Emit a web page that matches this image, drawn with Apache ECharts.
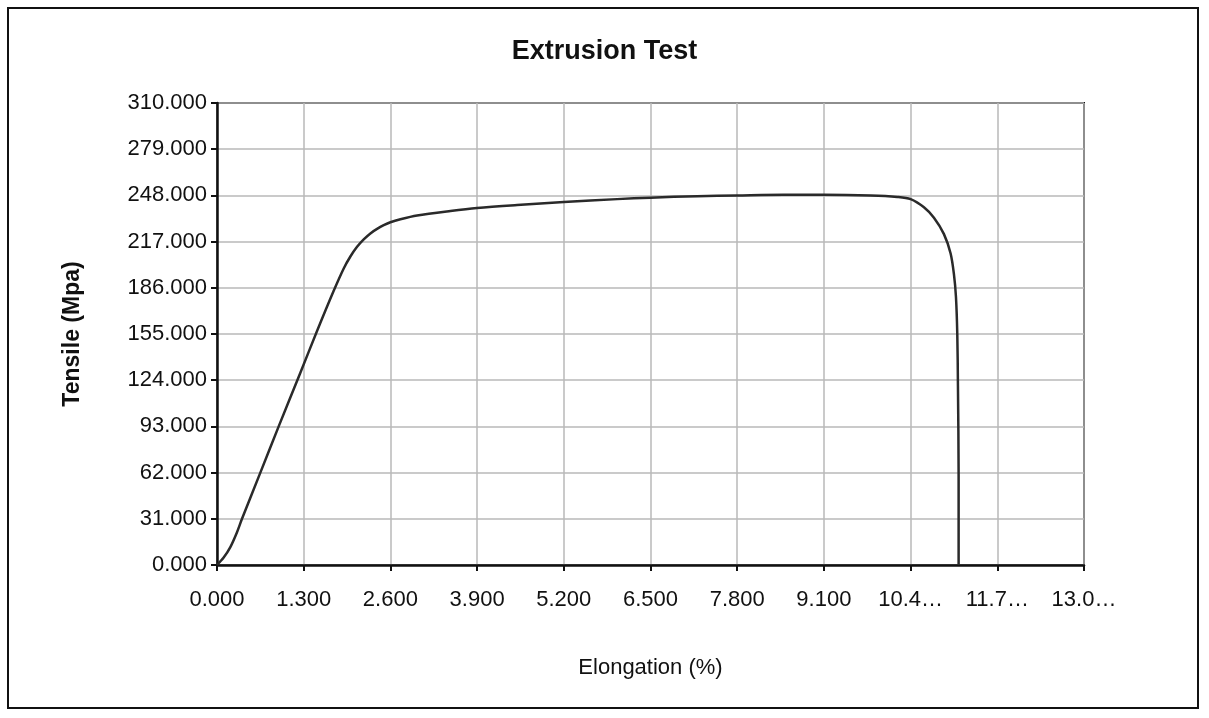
<!DOCTYPE html>
<html>
<head>
<meta charset="utf-8">
<script src="https://cdn.jsdelivr.net/npm/echarts@6/dist/echarts.min.js"></script>
<style>
  html, body { margin: 0; padding: 0; background: #fff; }
  #chart { width: 1209px; height: 718px; }
</style>
</head>
<body>
<div id="chart"></div>
<script>
// elongation (%) and tensile (Mpa)
const elongation = [0, 0.1, 0.2, 0.3, 0.375, 0.65, 0.925, 1.25, 1.5, 1.75, 1.9, 2.0, 2.1, 2.2, 2.3, 2.4, 2.5, 2.6, 2.75, 3.0, 3.5, 3.9, 4.5, 5.2, 6.0, 6.5, 7.2, 7.8, 8.5, 9.1, 9.8, 10.2, 10.4, 10.6, 10.75, 10.9, 11.0, 11.05, 11.08, 11.1, 11.11, 11.12, 11.12];
const tensile = [0, 5, 12, 22, 31, 62, 93, 129, 157, 184, 199, 207, 213.5, 218.5, 222.5, 225.5, 228, 230, 232, 234.5, 237.5, 239.5, 241.5, 243.5, 245.5, 246.5, 247.5, 248, 248.5, 248.5, 248, 247, 245.5, 240, 233, 222, 209, 195, 180, 155, 120, 60, 0];

const chart = echarts.init(document.getElementById("chart"));

/* ---------- label formatters ---------- */
const fmtY = (v) => v.toFixed(3);
const fmtX = (v) => {
  const s = v.toFixed(3);
  return s.length > 5 ? s.slice(0, 4) + "\u2026" : s;
};

const font = "Liberation Sans, Arial, sans-serif";

chart.setOption({
  backgroundColor: "#fff",
  animation: false,
  textStyle: { fontFamily: font },
  title: {
    text: "Extrusion Test",
    left: "center",
    top: 33,
    textStyle: { fontSize: 27, fontWeight: "bold", color: "#111", fontFamily: font },
  },
  graphic: [
    {
      type: "rect",
      shape: { x: 8, y: 8, width: 1190, height: 700 },
      style: { fill: "none", stroke: "#111", lineWidth: 2 },
      silent: true,
    },
  ],
  grid: {
    left: 217,
    right: 125,
    top: 103,
    bottom: 153,
    show: true,
    borderColor: "#111",
    borderWidth: 2,
  },
  xAxis: {
    type: "value",
    min: 0,
    max: 13,
    interval: 1.3,
    name: "Elongation (%)",
    nameLocation: "middle",
    nameGap: 92,
    nameTextStyle: { fontSize: 22, color: "#111", fontFamily: font },
    axisLine: { show: true, lineStyle: { color: "#111", width: 2.5 } },
    axisTick: { show: true, length: 6, lineStyle: { color: "#111", width: 2 } },
    axisLabel: { formatter: fmtX, fontSize: 22, color: "#111", margin: 24, showMaxLabel: true },
    splitLine: { show: true, lineStyle: { color: "#b8b8b8", width: 1.5 } },
  },
  yAxis: {
    type: "value",
    min: 0,
    max: 310,
    interval: 31,
    name: "Tensile (Mpa)",
    nameLocation: "middle",
    nameGap: 133,
    nameTextStyle: { fontSize: 23, fontWeight: "bold", color: "#111", fontFamily: font },
    axisLine: { show: true, lineStyle: { color: "#111", width: 2.5 } },
    axisTick: { show: true, length: 6, lineStyle: { color: "#111", width: 2 } },
    axisLabel: { formatter: fmtY, fontSize: 22, color: "#111", margin: 10 },
    splitLine: { show: true, lineStyle: { color: "#b8b8b8", width: 1.5 } },
  },
  series: [
    {
      type: "line",
      data: elongation.map((x, i) => [x, tensile[i]]),
      showSymbol: false,
      smooth: 0.3,
      lineStyle: { color: "#2a2a2a", width: 2.5 },
    },
  ],
});
</script>
</body>
</html>
